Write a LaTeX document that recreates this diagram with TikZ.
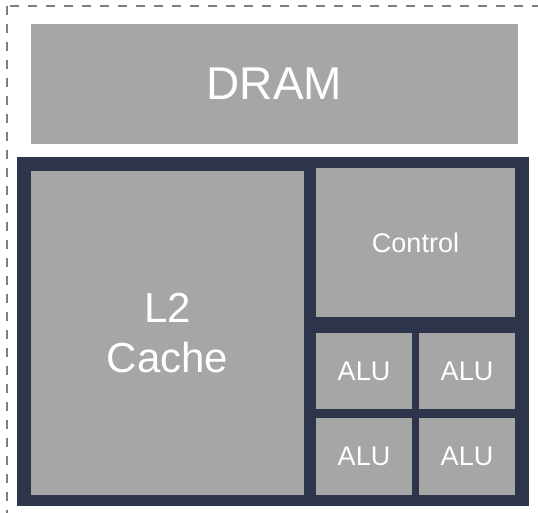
\documentclass[tikz,border=0pt]{standalone}
\usepackage{fontspec}
\setmainfont{Liberation Sans}
\usetikzlibrary{positioning}
\definecolor{chipgray}{HTML}{A6A6A6}
\definecolor{chipnavy}{HTML}{2E344A}
\definecolor{edgegray}{HTML}{7F7F7F}

\tikzset{
  unit/.style={rectangle, fill=chipgray, text=white, inner sep=0pt, align=center},
  bigfont/.style={font=\fontsize{46}{55}\selectfont},
  midfont/.style={font=\fontsize{42}{50}\selectfont},
  smallfont/.style={font=\fontsize{27}{32}\selectfont}
}

\begin{document}
\begin{tikzpicture}[x=1pt, y=-1pt]
    % Picture frame
    \useasboundingbox (0,0) rectangle (538,513);
    \clip (0,0) rectangle (538,513);

    % Dashed outline (runs off right and bottom)
    \draw[edgegray, line width=2.5pt, dash pattern=on 9pt off 9pt] (7,6) rectangle (548,524);

    % Memory
    \node[unit, bigfont, minimum width=487pt, minimum height=120pt] (dram) at (274.5,84) {DRAM};

    % Chip body
    \fill[chipnavy] (17,157) rectangle (529,506);

    % Cache and control
    \node[unit, midfont, minimum width=273pt, minimum height=324pt] (cache) at (167.5,333) {L2\\Cache};
    \node[unit, smallfont, minimum width=199pt, minimum height=149pt] (control) at (415.5,242.5) {Control};

    % ALU grid
    \foreach \x/\y/\n in {364/371/1, 467/371/2, 364/456.5/3, 467/456.5/4} {
        \node[unit, smallfont, minimum width=96pt, minimum height=76.5pt] (alu\n) at (\x,\y) {ALU};
    }
\end{tikzpicture}
\end{document}
